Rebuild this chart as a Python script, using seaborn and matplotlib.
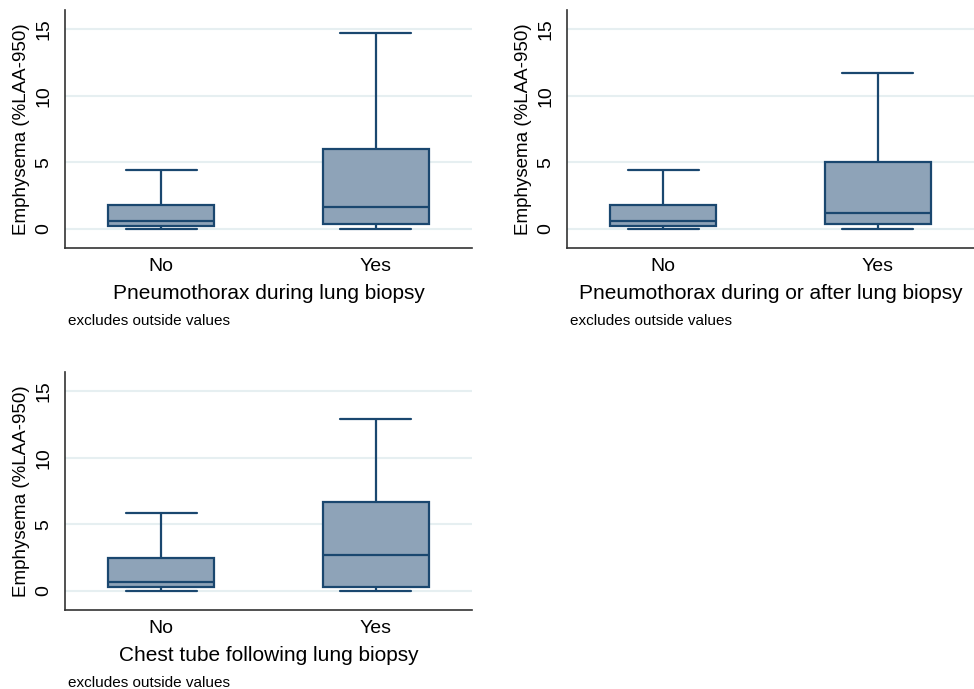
"""Emphysema (%LAA-950) box plots by biopsy complication, Stata-like style"""

import matplotlib
matplotlib.use("Agg")
import matplotlib.pyplot as plt
import numpy as np
import pandas as pd
import seaborn as sns

# ── data: box summary (min, q1, median, q3, max), outside values excluded ──
groups = ["No", "Yes"]
ptx_during_no = [0.0, 0.2, 0.55, 1.8, 4.4]
ptx_during_yes = [0.0, 0.35, 1.6, 6.0, 14.7]
ptx_after_no = [0.0, 0.2, 0.55, 1.8, 4.4]
ptx_after_yes = [0.0, 0.35, 1.15, 5.0, 11.7]
tube_no = [0.0, 0.25, 0.65, 2.45, 5.85]
tube_yes = [0.0, 0.25, 2.7, 6.7, 12.9]

panel_titles = ["Pneumothorax during lung biopsy",
                "Pneumothorax during or after lung biopsy",
                "Chest tube following lung biopsy"]
panel_data = [(ptx_during_no, ptx_during_yes),
              (ptx_after_no, ptx_after_yes),
              (tube_no, tube_yes)]
y_ticks = [0, 5, 10, 15]

EDGE = "#1a476f"
FILL = "#8ea3b8"
GRID = "#e6eff1"
BOX_W = 0.49
CAP_W = 0.33

sns.set_style("white")
plt.rcParams["font.family"] = ["Liberation Sans", "DejaVu Sans"]
plt.rcParams["text.color"] = "black"
plt.rcParams["axes.labelcolor"] = "black"
plt.rcParams["xtick.color"] = "black"
plt.rcParams["ytick.color"] = "black"

W, H = 974, 689
fig = plt.figure(figsize=(W / 100, H / 100), dpi=100)

# axes boxes in pixels: left, top, width, height
boxes = [(65, 10, 407, 238), (567, 10, 407, 238), (65, 372, 407, 238)]

for (l, t, w, h), title, (no_vals, yes_vals) in zip(boxes, panel_titles, panel_data):
    ax = fig.add_axes([l / W, (H - t - h) / H, w / W, h / H])
    df = pd.DataFrame({
        "grp": [groups[0]] * len(no_vals) + [groups[1]] * len(yes_vals),
        "val": no_vals + yes_vals,
    })
    for yv in y_ticks:
        ax.axhline(yv, color=GRID, lw=1.5, zorder=0)
    n_before = len(ax.lines)
    sns.boxplot(data=df, x="grp", y="val", order=groups, whis=(0, 100),
                width=BOX_W, color=FILL, linecolor=EDGE, linewidth=1.6,
                saturation=1, showfliers=False, ax=ax)
    # widen whisker caps (Stata draws them ~2/3 of box width)
    for ln in ax.lines[n_before:]:
        xd = np.asarray(ln.get_xdata(), dtype=float)
        yd = np.asarray(ln.get_ydata(), dtype=float)
        if len(xd) == 2 and yd[0] == yd[1] and 0 < abs(xd[1] - xd[0]) < BOX_W * 0.8:
            c = xd.mean()
            ln.set_xdata([c - CAP_W / 2, c + CAP_W / 2])
    ax.set_xlim(-0.447, 1.447)
    ax.set_ylim(-1.45, 16.45)
    ax.set_yticks(y_ticks)
    ax.set_yticklabels([str(v) for v in y_ticks], rotation=90, va="center",
                       fontsize=14)
    ax.tick_params(axis="y", length=6, width=1, color="#333333", pad=3)
    ax.tick_params(axis="x", length=0, labelsize=14, pad=7)
    ax.set_ylabel("Emphysema (%LAA-950)", fontsize=13.5, labelpad=4)
    ax.set_xlabel(title, fontsize=15, labelpad=7)
    for side in ["top", "right"]:
        ax.spines[side].set_visible(False)
    for side in ["left", "bottom"]:
        ax.spines[side].set_color("#333333")
        ax.spines[side].set_linewidth(1.2)
    fig.text((l + 3) / W, 1 - (t + h + 73) / H, "excludes outside values",
             fontsize=11, va="center", ha="left")

plt.savefig("out.png", dpi=100)
plt.close()
